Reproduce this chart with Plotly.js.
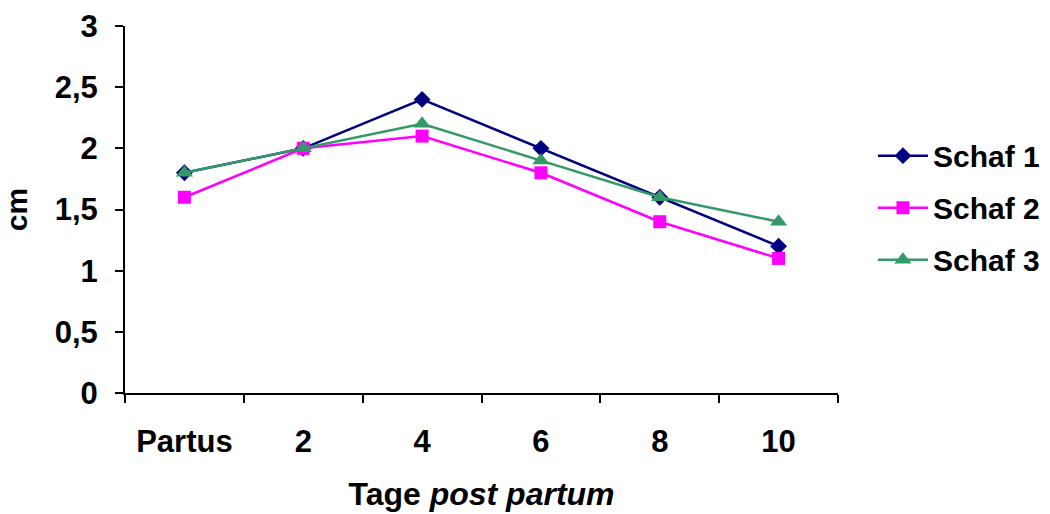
<!DOCTYPE html>
<html><head><meta charset="utf-8">
<script src="https://cdn.plot.ly/plotly-3.0.1.min.js"></script>
<style>body{margin:0;background:#fff}#c{width:1050px;height:514px}</style>
</head><body><div id="c"></div>
<script>
const categories = ["Partus", "2", "4", "6", "8", "10"];
const schaf1 = [1.8, 2.0, 2.4, 2.0, 1.6, 1.2];
const schaf2 = [1.6, 2.0, 2.1, 1.8, 1.4, 1.1];
const schaf3 = [1.8, 2.0, 2.2, 1.9, 1.6, 1.4];
const yTicks = [0, 0.5, 1, 1.5, 2, 2.5, 3];
const yTickText = ["0", "0,5", "1", "1,5", "2", "2,5", "3"];

const fam = "Liberation Sans, Arial, sans-serif";
function tr(name, y, color, symbol, size, grp) {
  return {x: categories, y: y, name: name, type: "scatter", mode: "lines+markers",
    legendgroup: grp,
    line: {color: color, width: 2.5}, marker: {color: color, symbol: symbol, size: size}};
}
const data = [
  tr("Schaf 1", schaf1, "#000080", "diamond", 13, "a"),
  tr("Schaf 2", schaf2, "#FF00FF", "square", 13, "b"),
  tr("Schaf 3", schaf3, "#339966", "triangle-up", 15, "c")
];
const layout = {
  width: 1050, height: 514,
  margin: {l: 125, r: 212, t: 26, b: 121, autoexpand: false},
  paper_bgcolor: "#fff", plot_bgcolor: "#fff",
  font: {family: fam, color: "#000"},
  showlegend: true,
  legend: {x: 1.049, y: 0.505, xanchor: "left", yanchor: "middle",
    traceorder: "grouped",
    font: {family: fam, size: 30, color: "#000", weight: "bold"},
    tracegroupgap: 10, itemwidth: 50},
  xaxis: {
    type: "category", range: [-0.5, 5.5],
    showline: true, linecolor: "#000", linewidth: 2,
    showgrid: false, zeroline: false,
    ticks: "outside", tickson: "boundaries", ticklen: 8, tickwidth: 2, tickcolor: "#000",
    ticklabelstandoff: 20,
    tickfont: {family: fam, size: 31, color: "#000", weight: "bold"},
    title: {text: "Tage <i>post partum</i>", standoff: 24,
      font: {family: fam, size: 32, color: "#000", weight: "bold"}}
  },
  yaxis: {
    range: [0, 3], tickvals: yTicks, ticktext: yTickText,
    showline: true, linecolor: "#000", linewidth: 2,
    showgrid: false, zeroline: false,
    ticks: "outside", ticklen: 8, tickwidth: 2, tickcolor: "#000",
    ticklabelstandoff: 11,
    tickfont: {family: fam, size: 31, color: "#000", weight: "bold"},
    title: {text: "cm", standoff: 22,
      font: {family: fam, size: 30, color: "#000", weight: "bold"}}
  }
};
Plotly.newPlot("c", data, layout, {displayModeBar: false});
</script></body></html>
